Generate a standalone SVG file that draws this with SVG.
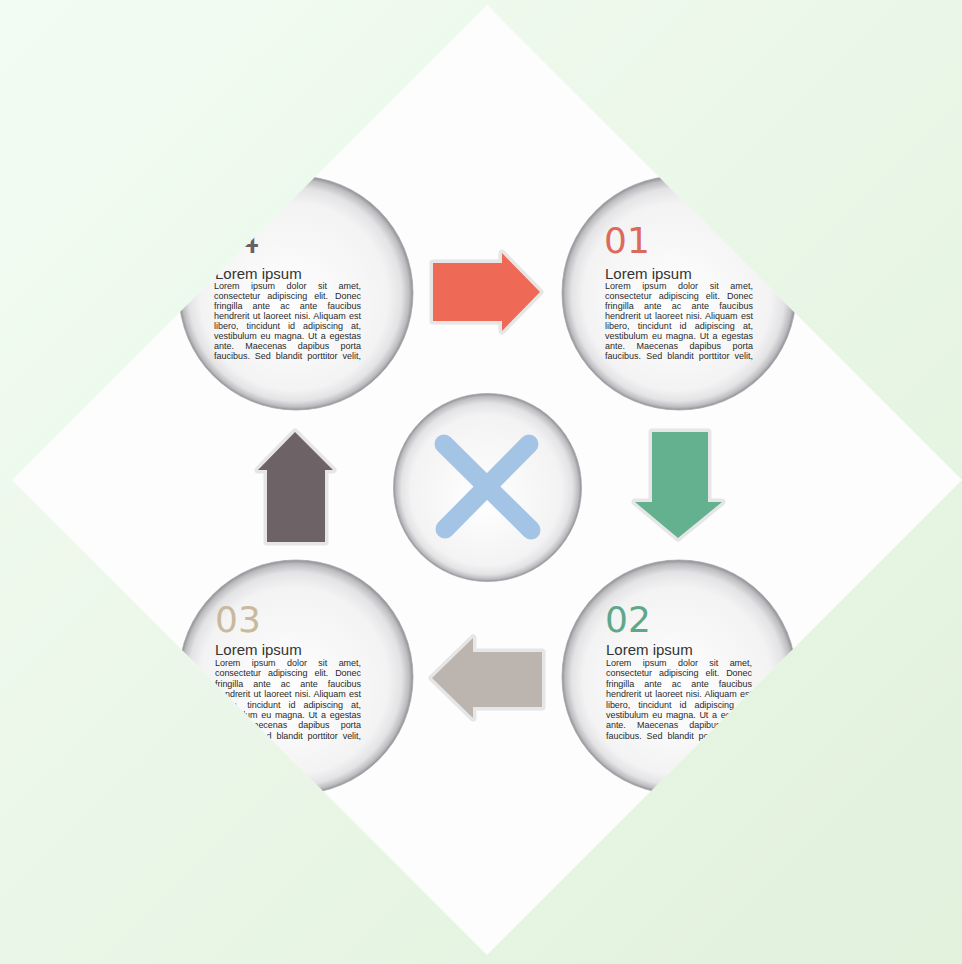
<svg xmlns="http://www.w3.org/2000/svg" width="962" height="964" viewBox="0 0 962 964">
<style>
.num{font-family:"DejaVu Sans","Liberation Sans",sans-serif;font-size:36px}
.ttl{font-family:"Liberation Sans",Arial,sans-serif;font-size:15px;fill:#333}
.body{font-family:"Liberation Sans",Arial,sans-serif;font-size:9px;fill:#2a2a2a}
.l1{word-spacing:9px}.l2{word-spacing:4.5px}.l3{word-spacing:7.6px}.l4{word-spacing:0.8px}
.l5{word-spacing:5.6px}.l6{word-spacing:1.3px}.l7{word-spacing:8.8px}.l8{word-spacing:2.5px}
.disc{fill:url(#discGrad);stroke:#a8a8ac;stroke-width:0.8}
.arrow{stroke:#e6e6e6;stroke-width:7;stroke-linejoin:round;paint-order:stroke}
</style>
<defs>
<linearGradient id="bg" x1="0" y1="0" x2="1" y2="1">
<stop offset="0" stop-color="#f3fcf3"/>
<stop offset="1" stop-color="#e1f1dc"/>
</linearGradient>
<radialGradient id="discGrad" cx="50%" cy="50%" r="50%" fx="46%" fy="58%">
<stop offset="0" stop-color="#ffffff"/>
<stop offset="0.8" stop-color="#f3f3f4"/>
<stop offset="0.91" stop-color="#e3e3e5"/>
<stop offset="0.97" stop-color="#bdbdc1"/>
<stop offset="1" stop-color="#8e8e94"/>
</radialGradient>
<clipPath id="diamondClip">
<polygon points="487,5 962,480 487,955 12,480"/>
</clipPath>
</defs>
<rect width="962" height="964" fill="url(#bg)"/>
<polygon id="diamond" points="487,5 962,480 487,955 12,480" fill="#fdfdfd"/>
<g clip-path="url(#diamondClip)">
<g id="node-01">
<circle class="disc" cx="679" cy="293" r="117"/>
<text class="num" x="604" y="253" fill="#dc6a5c">01</text>
<text class="ttl" x="605" y="279">Lorem ipsum</text>
<g class="body">
<text class="l1" x="605" y="289" textLength="148" lengthAdjust="spacing">Lorem ipsum dolor sit amet,</text>
<text class="l2" x="605" y="299" textLength="148" lengthAdjust="spacing">consectetur adipiscing elit. Donec</text>
<text class="l3" x="605" y="309" textLength="148" lengthAdjust="spacing">fringilla ante ac ante faucibus</text>
<text class="l4" x="605" y="319" textLength="148" lengthAdjust="spacing">hendrerit ut laoreet nisi. Aliquam est</text>
<text class="l5" x="605" y="329" textLength="148" lengthAdjust="spacing">libero, tincidunt id adipiscing at,</text>
<text class="l6" x="605" y="339" textLength="148" lengthAdjust="spacing">vestibulum eu magna. Ut a egestas</text>
<text class="l7" x="605" y="349" textLength="148" lengthAdjust="spacing">ante. Maecenas dapibus porta</text>
<text class="l8" x="605" y="359" textLength="148" lengthAdjust="spacing">faucibus. Sed blandit porttitor velit,</text>
</g>
</g>
<g id="node-04">
<circle class="disc" cx="296" cy="293" r="117"/>
<text class="num" x="214" y="253" fill="#6a6064">04</text>
<text class="ttl" x="215" y="279">Lorem ipsum</text>
<g class="body">
<text class="l1" x="214" y="289" textLength="147" lengthAdjust="spacing">Lorem ipsum dolor sit amet,</text>
<text class="l2" x="214" y="299" textLength="147" lengthAdjust="spacing">consectetur adipiscing elit. Donec</text>
<text class="l3" x="214" y="309" textLength="147" lengthAdjust="spacing">fringilla ante ac ante faucibus</text>
<text class="l4" x="214" y="319" textLength="147" lengthAdjust="spacing">hendrerit ut laoreet nisi. Aliquam est</text>
<text class="l5" x="214" y="329" textLength="147" lengthAdjust="spacing">libero, tincidunt id adipiscing at,</text>
<text class="l6" x="214" y="339" textLength="147" lengthAdjust="spacing">vestibulum eu magna. Ut a egestas</text>
<text class="l7" x="214" y="349" textLength="147" lengthAdjust="spacing">ante. Maecenas dapibus porta</text>
<text class="l8" x="214" y="359" textLength="147" lengthAdjust="spacing">faucibus. Sed blandit porttitor velit,</text>
</g>
</g>
<g id="node-03">
<circle class="disc" cx="296" cy="677" r="117"/>
<text class="num" x="215" y="632" fill="#c9b99c">03</text>
<text class="ttl" x="215" y="655">Lorem ipsum</text>
<g class="body">
<text class="l1" x="215" y="666" textLength="146" lengthAdjust="spacing">Lorem ipsum dolor sit amet,</text>
<text class="l2" x="215" y="676.4" textLength="146" lengthAdjust="spacing">consectetur adipiscing elit. Donec</text>
<text class="l3" x="215" y="686.8" textLength="146" lengthAdjust="spacing">fringilla ante ac ante faucibus</text>
<text class="l4" x="215" y="697.2" textLength="146" lengthAdjust="spacing">hendrerit ut laoreet nisi. Aliquam est</text>
<text class="l5" x="215" y="707.6" textLength="146" lengthAdjust="spacing">libero, tincidunt id adipiscing at,</text>
<text class="l6" x="215" y="718" textLength="146" lengthAdjust="spacing">vestibulum eu magna. Ut a egestas</text>
<text class="l7" x="215" y="728.4" textLength="146" lengthAdjust="spacing">ante. Maecenas dapibus porta</text>
<text class="l8" x="215" y="738.8" textLength="146" lengthAdjust="spacing">faucibus. Sed blandit porttitor velit,</text>
</g>
</g>
<g id="node-02">
<circle class="disc" cx="679" cy="677" r="117"/>
<text class="num" x="605" y="632" fill="#5ea88a">02</text>
<text class="ttl" x="606" y="655">Lorem ipsum</text>
<g class="body">
<text class="l1" x="606" y="666" textLength="146" lengthAdjust="spacing">Lorem ipsum dolor sit amet,</text>
<text class="l2" x="606" y="676.4" textLength="146" lengthAdjust="spacing">consectetur adipiscing elit. Donec</text>
<text class="l3" x="606" y="686.8" textLength="146" lengthAdjust="spacing">fringilla ante ac ante faucibus</text>
<text class="l4" x="606" y="697.2" textLength="146" lengthAdjust="spacing">hendrerit ut laoreet nisi. Aliquam est</text>
<text class="l5" x="606" y="707.6" textLength="146" lengthAdjust="spacing">libero, tincidunt id adipiscing at,</text>
<text class="l6" x="606" y="718" textLength="146" lengthAdjust="spacing">vestibulum eu magna. Ut a egestas</text>
<text class="l7" x="606" y="728.4" textLength="146" lengthAdjust="spacing">ante. Maecenas dapibus porta</text>
<text class="l8" x="606" y="738.8" textLength="146" lengthAdjust="spacing">faucibus. Sed blandit porttitor velit,</text>
</g>
</g>
<g id="node-center">
<circle class="disc" cx="487.5" cy="487.5" r="94"/>
<g stroke="#a4c4e6" stroke-width="19" stroke-linecap="round">
<line x1="444" y1="444" x2="531" y2="530"/>
<line x1="529" y1="444" x2="445" y2="529"/>
</g>
</g>
<g id="connectors">
<polygon class="arrow" fill="#ee6a57" points="433,263 502,263 502,253 540,292 502,331 502,321 433,321"/>
<polygon class="arrow" fill="#64b190" points="652,432 708,432 708,502 722,502 678,538 635,502 652,502"/>
<polygon class="arrow" fill="#bcb4af" points="542,652 542,707 473,707 473,718 432,678 473,638 473,652"/>
<polygon class="arrow" fill="#6d6266" points="267,542 267,470 258,470 295,432 333,470 325,470 325,542"/>
</g>
</g>
</svg>
